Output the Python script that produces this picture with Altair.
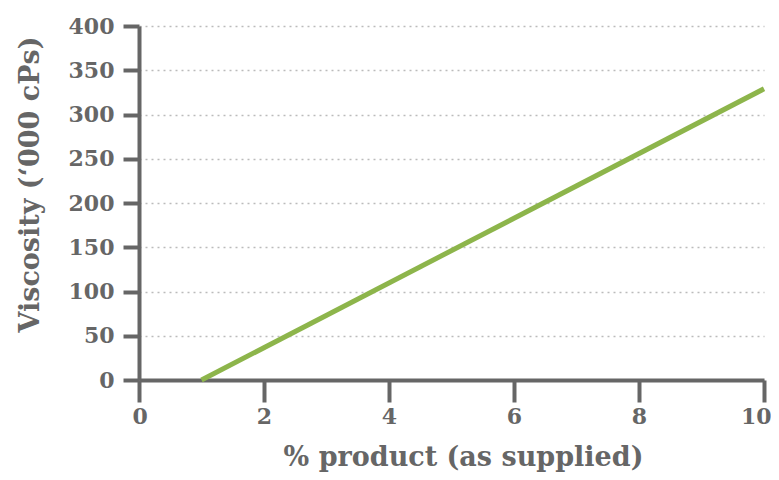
import altair as alt
import pandas as pd

product_pct = [1, 10]
viscosity = [0, 329]

df = pd.DataFrame({"x": product_pct, "y": viscosity})

FONT = "DejaVu Serif"
GREY = "#666666"

chart = alt.Chart(df).mark_line(color="#8db54b", strokeWidth=5, strokeCap="butt").encode(
    x=alt.X("x:Q", scale=alt.Scale(domain=[0, 10], nice=False),
            axis=alt.Axis(title="% product (as supplied)", values=[0, 2, 4, 6, 8, 10],
                          grid=False, tickSize=22, labelPadding=4,
                          labelFlush=True, labelFlushOffset=7,
                          titleX=324, titleY=85, titleBaseline="alphabetic", titleAlign="center")),
    y=alt.Y("y:Q", scale=alt.Scale(domain=[0, 400], nice=False),
            axis=alt.Axis(title="Viscosity (\u2018000 cPs)", values=list(range(0, 401, 50)),
                          grid=True, tickSize=16, labelPadding=9,
                          titleX=-109, titleY=158, titleBaseline="middle", titleAlign="center",
                          titleAngle=270)),
).properties(
    width=625, height=354,
    autosize=alt.AutoSizeParams(type="none"),
    padding={"left": 131, "top": 18, "right": 7, "bottom": 92},
).configure_view(stroke=None).configure_axis(
    domainColor=GREY, domainWidth=4, tickColor=GREY, tickWidth=4,
    labelFont=FONT, labelFontSize=22, labelColor=GREY, labelFontWeight="bold",
    titleFont=FONT, titleFontSize=27, titleColor=GREY, titleFontWeight="bold",
    gridColor="#bbbbbb", gridDash=[2, 4], gridWidth=1.5,
)

chart.save("out.html", embed_options={"renderer": "svg", "actions": False})
